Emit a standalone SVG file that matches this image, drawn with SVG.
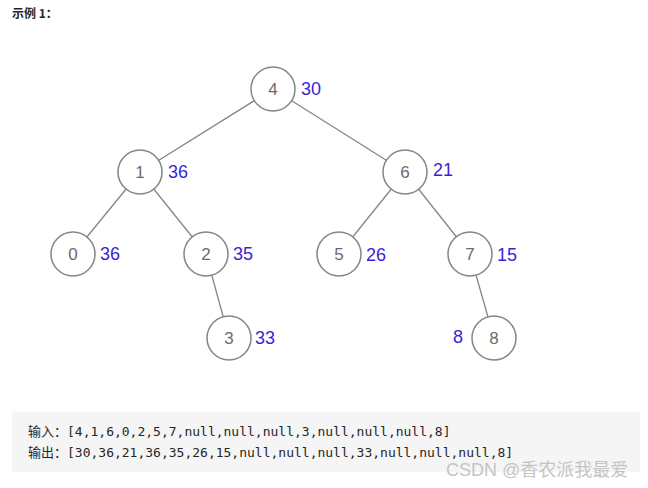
<svg xmlns="http://www.w3.org/2000/svg" width="648" height="488" viewBox="0 0 648 488">
<style>
.n circle{fill:#fff;stroke:#7d8a87;stroke-width:1.5}
.n text{font-family:"Liberation Sans",sans-serif;font-size:17px;fill:#6b6b6b;text-anchor:middle;dominant-baseline:central}
.v{font-family:"Liberation Sans",sans-serif;font-size:18px;fill:#3a1fd6;dominant-baseline:central}
.e line{stroke:#7d8a87;stroke-width:1.3}
.code{font-family:"DejaVu Sans Mono","Noto Sans CJK SC",monospace;font-size:13px;fill:#262626}
</style>
<rect width="648" height="488" fill="#fff"/>
<text x="12" y="18" font-family="'Noto Sans CJK SC',sans-serif" font-size="12" font-weight="bold" fill="#262626">示例 1：</text>
<g class="e">
<line x1="273" y1="89" x2="140" y2="172"/><line x1="273" y1="89" x2="405" y2="172"/>
<line x1="140" y1="172" x2="73" y2="254"/><line x1="140" y1="172" x2="206" y2="254"/>
<line x1="405" y1="172" x2="339" y2="254"/><line x1="405" y1="172" x2="470" y2="254"/>
<line x1="206" y1="254" x2="229" y2="338"/><line x1="470" y1="254" x2="494" y2="338"/>
</g>
<g id="n4" class="n"><circle cx="273" cy="89" r="22"/><text x="273" y="89">4</text></g>
<g id="n1" class="n"><circle cx="140" cy="172" r="22"/><text x="140" y="172">1</text></g>
<g id="n6" class="n"><circle cx="405" cy="172" r="22"/><text x="405" y="172">6</text></g>
<g id="n0" class="n"><circle cx="73" cy="254" r="22"/><text x="73" y="254">0</text></g>
<g id="n2" class="n"><circle cx="206" cy="254" r="22"/><text x="206" y="254">2</text></g>
<g id="n5" class="n"><circle cx="339" cy="254" r="22"/><text x="339" y="254">5</text></g>
<g id="n7" class="n"><circle cx="470" cy="254" r="22"/><text x="470" y="254">7</text></g>
<g id="n3" class="n"><circle cx="229" cy="338" r="22"/><text x="229" y="338">3</text></g>
<g id="n8" class="n"><circle cx="494" cy="338" r="22"/><text x="494" y="338">8</text></g>
<text class="v" x="301" y="89">30</text>
<text class="v" x="168" y="172">36</text>
<text class="v" x="433" y="170">21</text>
<text class="v" x="100" y="254">36</text>
<text class="v" x="233" y="254">35</text>
<text class="v" x="366" y="255">26</text>
<text class="v" x="497" y="255">15</text>
<text class="v" x="255" y="338">33</text>
<text class="v" x="453" y="337">8</text>
<rect x="12" y="412" width="628" height="60" fill="#f5f5f5" rx="2"/>
<text class="code" x="28" y="436">输入：[4,1,6,0,2,5,7,null,null,null,3,null,null,null,8]</text>
<text class="code" x="28" y="457">输出：[30,36,21,36,35,26,15,null,null,null,33,null,null,null,8]</text>
<text x="446" y="476" font-family="'Liberation Sans','Noto Sans CJK SC',sans-serif" font-size="18" fill="#bfbfbf" opacity="0.9">CSDN @香农派我最爱</text>
</svg>
